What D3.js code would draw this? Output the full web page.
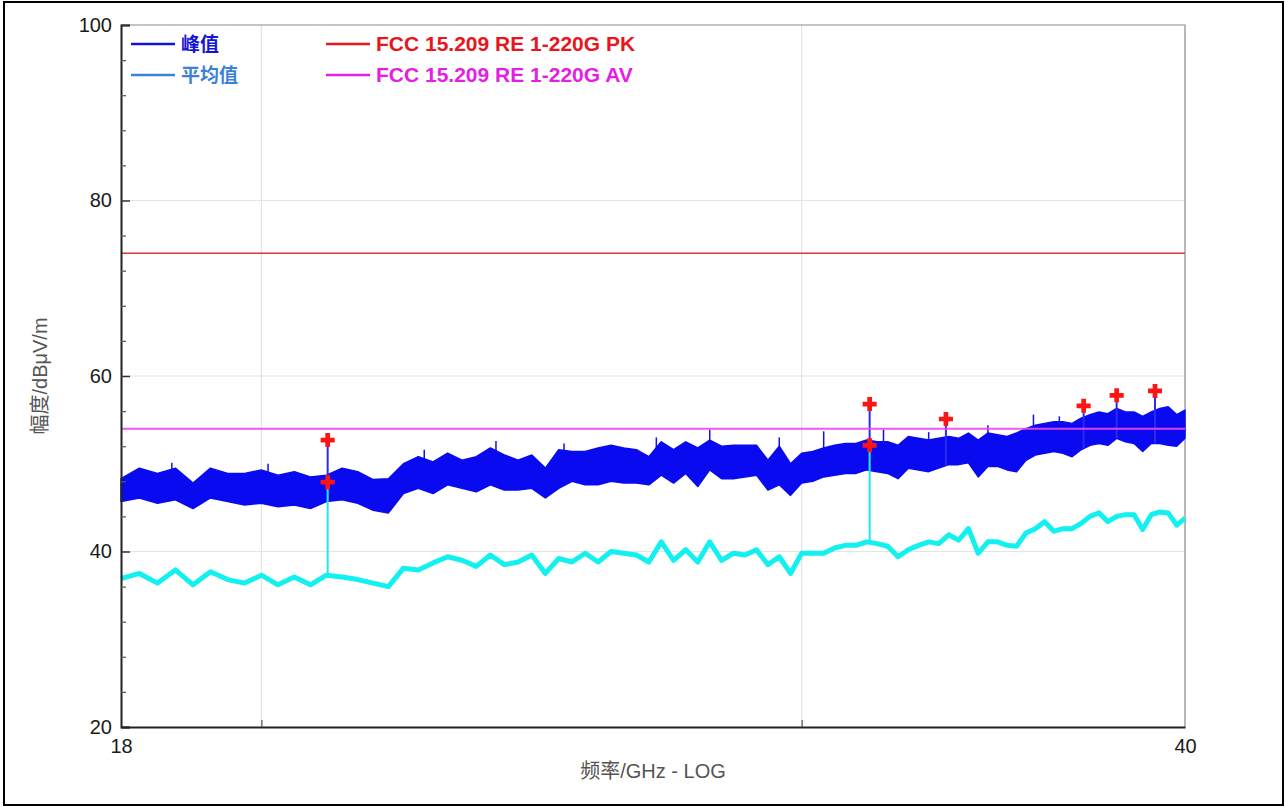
<!DOCTYPE html>
<html>
<head>
<meta charset="utf-8">
<script src="https://cdn.jsdelivr.net/npm/d3@7"></script>
<style>
    body { margin: 0; background: #fff; overflow: hidden; }
    text { font-family: "Liberation Sans", Arial, sans-serif; }
</style>
</head>
<body>
<script>
const freqs = [
    18.00, 18.25, 18.50, 18.75, 19.00, 19.25, 19.50, 19.75,
    20.00, 20.25, 20.50, 20.75, 21.00, 21.25, 21.50, 21.75,
    22.00, 22.25, 22.50, 22.75, 23.00, 23.25, 23.50, 23.75,
    24.00, 24.25, 24.50, 24.75, 25.00, 25.25, 25.50, 25.75,
    26.00, 26.25, 26.50, 26.75, 27.00, 27.25, 27.50, 27.75,
    28.00, 28.25, 28.50, 28.75, 29.00, 29.25, 29.50, 29.75,
    30.00, 30.25, 30.50, 30.75, 31.00, 31.25, 31.50, 31.75,
    32.00, 32.25, 32.50, 32.75, 33.00, 33.25, 33.50, 33.75,
    34.00, 34.25, 34.50, 34.75, 35.00, 35.25, 35.50, 35.75,
    36.00, 36.25, 36.50, 36.75, 37.00, 37.25, 37.50, 37.75,
    38.00, 38.25, 38.50, 38.75, 39.00, 39.25, 39.50, 39.75,
    40.00
];

// peak trace (峰值): upper and lower edge of the noise band, dBµV/m
const peakHigh = [
    48.3, 49.5, 48.9, 49.5, 47.8, 49.5, 48.9, 48.9,
    49.3, 48.7, 49.1, 48.5, 48.7, 49.5, 49.1, 48.2,
    48.3, 50.0, 50.8, 50.2, 51.2, 50.4, 50.8, 51.8,
    51.0, 50.4, 51.0, 49.5, 51.6, 51.4, 51.4, 51.8,
    52.1, 51.8, 51.6, 50.8, 52.5, 51.6, 52.5, 51.8,
    52.7, 52.0, 52.1, 52.1, 52.1, 50.4, 52.0, 50.0,
    51.2, 51.4, 51.8, 52.1, 52.3, 52.3, 52.7, 52.5,
    52.5, 52.1, 53.1, 52.9, 52.7, 52.9, 53.1, 52.9,
    53.5, 52.7, 53.5, 53.3, 53.1, 53.5, 54.0, 54.4,
    54.6, 54.8, 54.8, 54.6, 55.2, 55.6, 55.9, 55.7,
    56.3, 55.9, 55.9, 55.4, 55.9, 56.3, 56.5, 55.6,
    56.1
];
const peakLow = [
    45.7, 46.1, 45.5, 45.9, 44.9, 46.1, 45.7, 45.3,
    45.5, 45.1, 45.3, 44.9, 45.7, 45.9, 45.5, 44.7,
    44.4, 46.6, 47.2, 46.6, 47.6, 47.2, 46.8, 47.6,
    47.0, 47.0, 47.2, 46.1, 47.2, 48.0, 47.6, 47.6,
    48.0, 47.8, 47.8, 47.6, 48.7, 47.8, 48.9, 47.4,
    49.3, 48.3, 48.3, 48.5, 48.7, 47.0, 47.6, 46.4,
    47.8, 48.0, 48.5, 48.7, 48.9, 48.9, 49.3, 49.1,
    48.9, 48.3, 49.5, 49.3, 49.1, 49.5, 49.9, 49.9,
    50.1, 48.5, 49.7, 49.7, 49.3, 49.1, 50.4, 51.0,
    51.2, 51.4, 51.2, 50.8, 51.6, 52.1, 52.3, 52.1,
    52.9, 52.5, 52.3, 51.4, 52.3, 52.3, 52.1, 52.0,
    52.9
];

// isolated narrow spikes standing above the peak band
const spikeFreqs = [18.7, 20.1, 22.6, 23.85, 25.1, 26.9, 28.0, 29.5, 30.5, 31.9, 33.0, 34.5, 35.7, 36.4];
const spikeVals  = [50.1, 50.0, 51.6, 52.6, 52.3, 53.0, 53.9, 53.0, 53.7, 53.9, 53.6, 54.4, 55.6, 55.4];

// average trace (平均值), dBµV/m
const averageVals = [
    36.9, 37.5, 36.4, 37.9, 36.2, 37.7, 36.8, 36.4,
    37.3, 36.2, 37.1, 36.2, 37.3, 37.1, 36.8, 36.4,
    36.0, 38.1, 37.9, 38.7, 39.4, 39.0, 38.3, 39.6,
    38.5, 38.8, 39.6, 37.5, 39.2, 38.8, 39.8, 38.8,
    40.0, 39.8, 39.6, 38.8, 41.1, 39.0, 40.2, 38.8,
    41.1, 39.0, 39.8, 39.6, 40.2, 38.5, 39.4, 37.5,
    39.8, 39.8, 39.8, 40.4, 40.7, 40.7, 41.1, 40.9,
    40.6, 39.4, 40.2, 40.7, 41.1, 40.9, 41.9, 41.3,
    42.6, 39.8, 41.1, 41.1, 40.7, 40.6, 42.1, 42.6,
    43.4, 42.3, 42.6, 42.6, 43.2, 44.0, 44.4, 43.4,
    44.0, 44.2, 44.2, 42.5, 44.2, 44.5, 44.4, 43.0,
    43.8
];

// limit lines
const limitPK = 74;
const limitAV = 54;

// marker readings (red crosses)
const pkMarkerFreqs = [21.02, 31.57, 33.43, 37.07, 38.00, 39.11];
const pkMarkerVals  = [52.7, 56.8, 55.1, 56.6, 57.8, 58.3];
const avMarkerFreqs = [21.02, 31.57];
const avMarkerVals  = [47.9, 52.1];

// axes
const xTickLabels = [18, 40];
const xGridFreqs = [20, 30];
const yTickLabels = [20, 40, 60, 80, 100];
const yMinorTicks = [24, 28, 32, 36, 44, 48, 52, 56, 64, 68, 72, 76, 84, 88, 92, 96];

const legendItems = [
    {label: "峰值", color: "#1414d8", col: 0, row: 0, cjk: true},
    {label: "平均值", color: "#3b82d6", col: 0, row: 1, cjk: true},
    {label: "FCC 15.209 RE 1-220G PK", color: "#e8161c", col: 1, row: 0, cjk: false},
    {label: "FCC 15.209 RE 1-220G AV", color: "#e41ee4", col: 1, row: 1, cjk: false}
];

const W = 1285, H = 807;
const plot = {left: 121, right: 1185, top: 25, bottom: 727};

const svg = d3.select("body").append("svg")
    .attr("width", W)
    .attr("height", H);

// outer frame of the picture
svg.append("rect")
    .attr("x", 4).attr("y", 2)
    .attr("width", W - 6).attr("height", H - 4)
    .attr("fill", "none")
    .attr("stroke", "#000")
    .attr("stroke-width", 2);

const x = d3.scaleLog().domain([18, 40]).range([plot.left, plot.right]);
const y = d3.scaleLinear().domain([20, 100]).range([plot.bottom, plot.top]);

//////////// GRID ////////////
const grid = svg.append("g").attr("stroke", "#e4e4e4").attr("stroke-width", 1.2);
grid.selectAll(".hg")
    .data(yTickLabels.filter(d => d > 20 && d < 100))
    .join("line")
    .attr("x1", plot.left).attr("x2", plot.right)
    .attr("y1", d => y(d)).attr("y2", d => y(d));
grid.selectAll(".vg")
    .data(xGridFreqs)
    .join("line")
    .attr("x1", d => x(d)).attr("x2", d => x(d))
    .attr("y1", plot.top).attr("y2", plot.bottom);

// top and right border of the plot box
svg.append("path")
    .attr("d", `M${plot.left},${plot.top}H${plot.right}V${plot.bottom}`)
    .attr("fill", "none")
    .attr("stroke", "#8a8a8a")
    .attr("stroke-width", 1.2);

//////////// TRACES ////////////
const rows = freqs.map((f, i) => ({f: f, hi: peakHigh[i], lo: peakLow[i], av: averageVals[i]}));

// value of a trace at a marker frequency (for drawing the marker stems)
function traceAt(f, key) {
    const i = Math.max(1, d3.bisector(d => d.f).left(rows, f));
    const a = rows[i - 1], b = rows[Math.min(i, rows.length - 1)];
    const t = b.f === a.f ? 0 : (f - a.f) / (b.f - a.f);
    return a[key] + (b[key] - a[key]) * t;
}

// thin spikes first so the band covers their foot
svg.append("g")
    .attr("stroke", "#1010f0")
    .attr("stroke-width", 1.5)
    .selectAll("line")
    .data(spikeFreqs)
    .join("line")
    .attr("x1", d => x(d)).attr("x2", d => x(d))
    .attr("y1", (d, i) => y(spikeVals[i]))
    .attr("y2", d => y(traceAt(d, "lo")));

svg.append("path")
    .datum(rows)
    .attr("fill", "#0a0af0")
    .attr("stroke", "#0a0af0")
    .attr("stroke-width", 1.5)
    .attr("stroke-linejoin", "round")
    .attr("d", d3.area()
        .x(d => x(d.f))
        .y0(d => y(d.lo))
        .y1(d => y(d.hi)));

// peak stems
svg.append("g")
    .attr("stroke", "#2a2af5")
    .attr("stroke-width", 2)
    .selectAll("line")
    .data(pkMarkerFreqs)
    .join("line")
    .attr("x1", d => x(d)).attr("x2", d => x(d))
    .attr("y1", (d, i) => y(pkMarkerVals[i]))
    .attr("y2", d => y(traceAt(d, "lo")));

svg.append("path")
    .datum(rows)
    .attr("fill", "none")
    .attr("stroke", "#12f0f0")
    .attr("stroke-width", 5)
    .attr("stroke-linejoin", "round")
    .attr("d", d3.line()
        .x(d => x(d.f))
        .y(d => y(d.av)));

// average stems
svg.append("g")
    .attr("stroke", "#20e8f0")
    .attr("stroke-width", 2)
    .selectAll("line")
    .data(avMarkerFreqs)
    .join("line")
    .attr("x1", d => x(d)).attr("x2", d => x(d))
    .attr("y1", (d, i) => y(avMarkerVals[i]))
    .attr("y2", d => y(traceAt(d, "av")));

// limit lines
svg.append("line")
    .attr("x1", plot.left).attr("x2", plot.right)
    .attr("y1", y(limitPK)).attr("y2", y(limitPK))
    .attr("stroke", "#e0343a").attr("stroke-width", 1.5);
svg.append("line")
    .attr("x1", plot.left).attr("x2", plot.right)
    .attr("y1", y(limitAV)).attr("y2", y(limitAV))
    .attr("stroke", "#f046f0").attr("stroke-width", 2)
    .attr("opacity", 0.9);

// markers
const cross = d3.symbol(d3.symbolCross, 110);
const markers = pkMarkerFreqs.map((f, i) => ({f: f, v: pkMarkerVals[i]}))
    .concat(avMarkerFreqs.map((f, i) => ({f: f, v: avMarkerVals[i]})));
svg.append("g")
    .selectAll("path")
    .data(markers)
    .join("path")
    .attr("d", cross)
    .attr("transform", d => `translate(${x(d.f)},${y(d.v)})`)
    .attr("fill", "#ff1414");

//////////// AXES ////////////
const yAxis = svg.append("g")
    .attr("transform", `translate(${plot.left},0)`)
    .call(d3.axisLeft(y).tickValues(yTickLabels).tickSize(-9).tickPadding(9));
yAxis.selectAll(".tick text").attr("font-size", 20).attr("fill", "#1a1a1a")
    .attr("font-family", '"Liberation Sans", Arial, sans-serif');
yAxis.selectAll(".tick line").attr("stroke", "#333").attr("stroke-width", 1.5);
yAxis.select(".domain").attr("stroke", "#222").attr("stroke-width", 2);

svg.append("g")
    .attr("transform", `translate(${plot.left},0)`)
    .call(d3.axisLeft(y).tickValues(yMinorTicks).tickSize(-5).tickFormat(""))
    .call(g => g.select(".domain").remove())
    .selectAll(".tick line").attr("stroke", "#555").attr("stroke-width", 1.2);

const xAxis = svg.append("g")
    .attr("transform", `translate(0,${plot.bottom})`)
    .call(d3.axisBottom(x).tickValues(xTickLabels).tickSize(0).tickPadding(12).tickFormat(d3.format("d")));
xAxis.selectAll(".tick text").attr("font-size", 20).attr("fill", "#1a1a1a")
    .attr("font-family", '"Liberation Sans", Arial, sans-serif');
xAxis.select(".domain").attr("stroke", "#222").attr("stroke-width", 2);

svg.append("g")
    .attr("transform", `translate(0,${plot.bottom})`)
    .call(d3.axisBottom(x).tickValues(xGridFreqs).tickSize(-7).tickFormat(""))
    .call(g => g.select(".domain").remove())
    .selectAll(".tick line").attr("stroke", "#555").attr("stroke-width", 1.2);

// axis titles
svg.append("text")
    .attr("transform", "translate(47,376) rotate(-90)")
    .attr("text-anchor", "middle")
    .attr("font-size", 20)
    .attr("fill", "#555")
    .style("font-family", '"Liberation Sans", "Noto Sans CJK SC", sans-serif')
    .text("幅度/dBμV/m");

svg.append("text")
    .attr("x", 653).attr("y", 778)
    .attr("text-anchor", "middle")
    .attr("font-size", 20)
    .attr("fill", "#555")
    .style("font-family", '"Liberation Sans", "Noto Sans CJK SC", sans-serif')
    .text("频率/GHz - LOG");

//////////// LEGEND ////////////
const legend = svg.append("g");
const colX = [131, 326];
const rowY = [44, 75];
legendItems.forEach(d => {
    const lx = colX[d.col], ly = rowY[d.row];
    legend.append("line")
        .attr("x1", lx).attr("x2", lx + 44)
        .attr("y1", ly).attr("y2", ly)
        .attr("stroke", d.color).attr("stroke-width", 2.5);
    legend.append("text")
        .attr("x", lx + 50).attr("y", ly + 7)
        .attr("font-size", d.cjk ? 19 : 21)
        .attr("font-weight", "bold")
        .attr("fill", d.color)
        .style("font-family", d.cjk ? '"Noto Sans CJK SC", sans-serif' : '"Liberation Sans", Arial, sans-serif')
        .text(d.label);
});
</script>
</body>
</html>
